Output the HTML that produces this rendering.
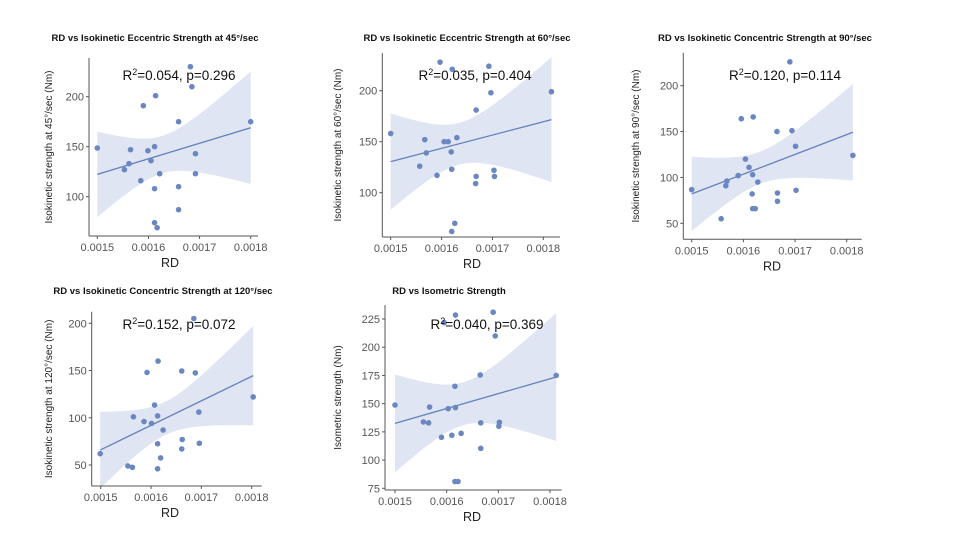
<!DOCTYPE html>
<html><head><meta charset="utf-8"><style>
html,body{margin:0;padding:0;background:#fff;}
svg{display:block;font-family:"Liberation Sans",Arial,sans-serif;}
</style></head><body>
<svg id="fig" width="960" height="540" viewBox="0 0 960 540"></svg>
<script>
const rd1=[0.001500,0.001553,0.001562,0.001565,0.001585,0.001590,0.001599,0.001605,0.001612,0.001612,0.001612,0.001614,0.001617,0.001622,0.001659,0.001659,0.001659,0.001682,0.001685,0.001692,0.001692,0.001800];
const s1=[148.7,127,133,147,116,191,146,136,150,108,74,201,69,123,175,110,87,230,210,143,123,175];
const rd2=[0.001500,0.001557,0.001567,0.001570,0.001591,0.001597,0.001605,0.001613,0.001619,0.001620,0.001621,0.001620,0.001626,0.001630,0.001668,0.001668,0.001667,0.001693,0.001697,0.001703,0.001704,0.001816];
const s2=[158,126,152,139,117,228,150,150,140,123,221,62,70,154,181,116,109,224,198,122,116,199];
const rd3=[0.001500,0.001557,0.001566,0.001568,0.001590,0.001596,0.001604,0.001611,0.001617,0.001618,0.001619,0.001618,0.001623,0.001628,0.001665,0.001666,0.001666,0.001690,0.001694,0.001701,0.001702,0.001812];
const s3=[86.7,55,91,96,102,164,120,111,82,103,166,66,66,95,150,83,74,226,151,134,86,124];
const rd4=[0.001499,0.001554,0.001563,0.001565,0.001586,0.001592,0.001601,0.001607,0.001613,0.001613,0.001614,0.001613,0.001619,0.001624,0.001661,0.001662,0.001661,0.001685,0.001688,0.001695,0.001696,0.001803];
const s4=[62,49,47.5,101,96,148,94,113.5,102,72.5,160,46,57.5,87,149.5,77,67,205,147.5,106,73,122];
const rd5=[0.001500,0.001555,0.001565,0.001567,0.001590,0.001595,0.001603,0.001610,0.001617,0.001616,0.001617,0.001616,0.001622,0.001628,0.001665,0.001666,0.001666,0.001690,0.001694,0.001701,0.001702,0.001812];
const s5=[148.8,133.8,133,147,120.2,221.8,145.6,122,228.5,165.4,146.5,81,81,123.7,175.4,133,110.4,231,210,130,133.5,175];
const xTicks=[0.0015,0.0016,0.0017,0.0018];
const yTicks1=[100,150,200];
const yTicks2=[100,150,200];
const yTicks3=[50,100,150,200];
const yTicks4=[50,100,150,200];
const yTicks5=[75,100,125,150,175,200,225];
const titles=["RD vs Isokinetic Eccentric Strength at 45°/sec","RD vs Isokinetic Eccentric Strength at 60°/sec","RD vs Isokinetic Concentric Strength at 90°/sec","RD vs Isokinetic Concentric Strength at 120°/sec","RD vs Isometric Strength"];
const yLabels=["Isokinetic strength at 45°/sec (Nm)","Isokinetic strength at 60°/sec (Nm)","Isokinetic strength at 90°/sec (Nm)","Isokinetic strength at 120°/sec (Nm)","Isometric strength (Nm)"];
const r2Text=["0.054","0.035","0.120","0.152","0.040"];
const pText=["0.296","0.404","0.114","0.072","0.369"];

const NS="http://www.w3.org/2000/svg";
const svg=document.getElementById('fig');
function mk(tag,attrs,parent){const e=document.createElementNS(NS,tag);for(const k in attrs)e.setAttribute(k,attrs[k]);(parent||svg).appendChild(e);return e;}

// geometry per panel (layout only)
const panels=[
 {xs:rd1,ys:s1,yt:yTicks1,ax:89,ab:236,at:58,ar:258,x0:97.3,x1:250.7,yv0:100,yp0:196.7,yv1:200,yp1:96.7,tx:155,ty:41,lx:48,ax2:179,ay:80,rx:170},
 {xs:rd2,ys:s2,yt:yTicks2,ax:382.3,ab:237,at:53,ar:560,x0:390.7,x1:543.3,yv0:100,yp0:192.7,yv1:200,yp1:90.7,tx:467,ty:41,lx:337,ax2:475,ay:80,rx:472},
 {xs:rd3,ys:s3,yt:yTicks3,ax:683.3,ab:239.3,at:52.7,ar:861.7,x0:691.7,x1:846.7,yv0:50,yp0:223.3,yv1:200,yp1:85.7,tx:765,ty:41,lx:635,ax2:785,ay:80,rx:772},
 {xs:rd4,ys:s4,yt:yTicks4,ax:91.7,ab:486,at:311.7,ar:261.7,x0:100.7,x1:251.7,yv0:50,yp0:465,yv1:200,yp1:323.3,tx:163,ty:294,lx:48,ax2:179,ay:329,rx:170},
 {xs:rd5,ys:s5,yt:yTicks5,ax:385,ab:490,at:305,ar:561.7,x0:395,x1:550,yv0:75,yp0:488.3,yv1:225,yp1:319,tx:449,ty:294,lx:337,ax2:487,ay:329,rx:472}
];

panels.forEach((p,i)=>{
 const g=mk('g',{});
 
 
 const X=v=>p.x0+(v-0.0015)/0.0003*(p.x1-p.x0);
 const Y=v=>p.yp0+(v-p.yv0)/(p.yv1-p.yv0)*(p.yp1-p.yp0);
 // regression + CI
 const n=p.xs.length;
 const xm=p.xs.reduce((a,b)=>a+b,0)/n, ym=p.ys.reduce((a,b)=>a+b,0)/n;
 let sxx=0,sxy=0;for(let k=0;k<n;k++){sxx+=(p.xs[k]-xm)**2;sxy+=(p.xs[k]-xm)*(p.ys[k]-ym);}
 const b=sxy/sxx,a=ym-b*xm;
 let sse=0;for(let k=0;k<n;k++){sse+=(p.ys[k]-a-b*p.xs[k])**2;}
 const s=Math.sqrt(sse/(n-2)),t=2.086;
 const xmin=Math.min(...p.xs),xmax=Math.max(...p.xs);
 const up=[],lo=[];
 for(let k=0;k<=40;k++){const xv=xmin+(xmax-xmin)*k/40;const yh=a+b*xv;const se=t*s*Math.sqrt(1/n+(xv-xm)**2/sxx);
  up.push(X(xv).toFixed(1)+','+Y(yh+se).toFixed(1));lo.unshift(X(xv).toFixed(1)+','+Y(yh-se).toFixed(1));}
 const band=mk('polygon',{points:up.concat(lo).join(' '),fill:'#dfe5f2'},g);
 
 
 const ln=mk('line',{x1:X(xmin),y1:Y(a+b*xmin),x2:X(xmax),y2:Y(a+b*xmax),stroke:'#6381bb','stroke-width':1.3},g);
 
 
 // axes
 mk('line',{x1:p.ax,y1:p.at,x2:p.ax,y2:p.ab,stroke:'#555','stroke-width':1},g);
 mk('line',{x1:p.ax,y1:p.ab,x2:p.ar,y2:p.ab,stroke:'#555','stroke-width':1},g);
 xTicks.forEach(v=>{
  mk('line',{x1:X(v),y1:p.ab,x2:X(v),y2:p.ab+3,stroke:'#555'},g);
  const tx=mk('text',{x:X(v),y:p.ab+15,'text-anchor':'middle','font-size':11,fill:'#555'},g);tx.textContent=v.toFixed(4);
  
  
 });
 p.yt.forEach(v=>{
  mk('line',{x1:p.ax-3,y1:Y(v),x2:p.ax,y2:Y(v),stroke:'#555'},g);
  const tx=mk('text',{x:p.ax-5,y:Y(v)+4,'text-anchor':'end','font-size':11,fill:'#555'},g);tx.textContent=v;
  
  
 });
 // points
 for(let k=0;k<n;k++){
  const c=mk('circle',{cx:X(p.xs[k]),cy:Y(p.ys[k]),r:2.8,fill:'#6b87c1'},g);
  
  
 }
 // labels
 const tt=mk('text',{x:p.tx,y:p.ty,'text-anchor':'middle','font-size':9.5,'font-weight':'bold',fill:'#111'},g);tt.textContent=titles[i];
 
 
 const yl=mk('text',{x:0,y:0,transform:`translate(${p.lx+4},${(p.at+p.ab)/2}) rotate(-90)`,'text-anchor':'middle','font-size':10,fill:'#222'},g);yl.textContent=yLabels[i];
 
 
 const xl=mk('text',{x:p.rx,y:p.ab+31,'text-anchor':'middle','font-size':12.5,fill:'#222'},g);xl.textContent='RD';
 
 
 const an=mk('text',{x:p.ax2,y:p.ay,'text-anchor':'middle','font-size':13.5,fill:'#111'},g);
 
 
 const t1=mk('tspan',{},an);t1.textContent='R';
 const t2=mk('tspan',{dy:-5,'font-size':9},an);t2.textContent='2';
 const t3=mk('tspan',{dy:5},an);t3.textContent='='+r2Text[i]+', p='+pText[i];
});
</script>
</body></html>
